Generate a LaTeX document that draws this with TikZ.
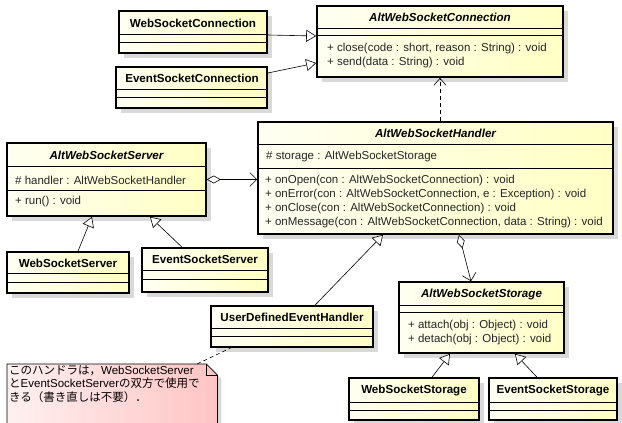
\documentclass[tikz,border=0pt]{standalone}
\usepackage{fontspec}
\setmainfont{Liberation Sans}
\newfontfamily\cjk{Noto Sans CJK JP}
\usetikzlibrary{arrows.meta,shadows}
\definecolor{boxL}{RGB}{255,255,242}
\definecolor{boxR}{RGB}{255,255,196}
\definecolor{noteL}{RGB}{255,240,240}
\definecolor{noteR}{RGB}{255,196,196}
\tikzset{
 classbox/.style={draw=black, line width=1.6pt, left color=boxL, right color=boxR, inner sep=0pt,
   drop shadow={shadow xshift=5pt, shadow yshift=-5pt, fill=black!15, opacity=1}},
 sepline/.style={line width=0.6pt},
 cname/.style={font=\fontsize{11.6}{13}\selectfont\bfseries, inner sep=0pt},
 aname/.style={font=\fontsize{11.6}{13}\selectfont\bfseries\itshape, inner sep=0pt},
 member/.style={font=\fontsize{11.5}{14}\selectfont, anchor=west, align=left, inner sep=0pt, text=black!85},
 gen/.style={line width=0.6pt, -{Triangle[open, length=10pt, width=12pt, fill=white]}},
 agg/.style={line width=0.6pt, {Diamond[open, length=14pt, width=8pt, fill=white]}-{Straight Barb[length=7pt, width=14pt]}},
 dep/.style={line width=0.6pt, dash pattern=on 4pt off 3pt, -{Straight Barb[length=7pt, width=12pt]}},
 notelink/.style={line width=0.6pt, dash pattern=on 4pt off 3pt},
}
\newcommand\umlbox[7]{%
  \node[classbox, minimum width={(#4-#2)*1pt}, minimum height={(#5-#3)*1pt}] (#1) at ({(#2+#4)/2},{(#3+#5)/2}) {};
  \draw[sepline] (#2,#6) -- (#4,#6);
  \draw[sepline] (#2,#7) -- (#4,#7);
}
\begin{document}
\begin{tikzpicture}[x=1pt,y=-1pt]
\useasboundingbox (0,0) rectangle (622,423);
\fill[white] (0,0) rectangle (622,423);

% class boxes
\umlbox{wsc}{119}{11}{267}{53}{34}{42}
\umlbox{esc}{116}{67}{267}{108}{89}{97}
\umlbox{awsc}{317}{6}{563}{77}{28}{35}
\umlbox{handler}{258}{122}{613}{234}{144}{168}
\umlbox{server}{7}{143}{206}{216}{166}{190}
\umlbox{wss}{7}{252}{129}{293}{273}{282}
\umlbox{ess}{142}{248}{268}{292}{270}{279}
\umlbox{udeh}{211}{306}{373}{347}{328}{336}
\umlbox{storage}{399}{282}{564}{353}{305}{312}
\umlbox{wsst}{349}{378}{479}{420}{402}{410}
\umlbox{esst}{489}{378}{617}{420}{402}{410}

% names
\node[cname] (wsc-n) at (193,23) {WebSocketConnection};
\node[cname] (esc-n) at (192,78) {EventSocketConnection};
\node[aname] (awsc-n) at (440,17.5) {AltWebSocketConnection};
\node[aname] (handler-n) at (435.5,133.5) {AltWebSocketHandler};
\node[aname] (server-n) at (106.5,155) {AltWebSocketServer};
\node[cname] (wss-n) at (68,263) {WebSocketServer};
\node[cname] (ess-n) at (205,259.5) {EventSocketServer};
\node[cname] (udeh-n) at (292,317.5) {UserDefinedEventHandler};
\node[aname] (storage-n) at (481.5,294) {AltWebSocketStorage};
\node[cname] (wsst-n) at (414,390.5) {WebSocketStorage};
\node[cname] (esst-n) at (553,390.5) {EventSocketStorage};

% members
\node[member] (awsc-m) at (327,56) {+ close(code : short, reason : String) : void\\+ send(data : String) : void};
\node[member] (handler-a) at (266,156.5) {\# storage : AltWebSocketStorage};
\node[member] (handler-m) at (265,202) {+ onOpen(con : AltWebSocketConnection) : void\\+ onError(con : AltWebSocketConnection, e : Exception) : void\\+ onClose(con : AltWebSocketConnection) : void\\+ onMessage(con : AltWebSocketConnection, data : String) : void};
\node[member] (server-a) at (15,180) {\# handler : AltWebSocketHandler};
\node[member] (server-m) at (15,202) {+ run() : void};
\node[member] (storage-m) at (408,333) {+ attach(obj : Object) : void\\+ detach(obj : Object) : void};

% connectors
\draw[gen] ([yshift=-3pt]wsc.east) -- ([yshift=5.5pt]awsc.west);
\draw[gen] ([yshift=14.5pt]esc.east) -- ([yshift=-21.5pt]awsc.west);
\draw[dep] (handler.north -| awsc.south) -- (awsc.south);
\draw[agg] (server.east) -- (server.east -| handler.west);
\draw[gen] ([xshift=10pt]wss.north) -- ([xshift=-14.5pt]server.south);
\draw[gen] ([xshift=-23pt]ess.north) -- ([xshift=43.5pt]server.south);
\draw[gen] ([xshift=23pt]udeh.north) -- ([xshift=-52.5pt]handler.south);
\draw[agg] ([xshift=23.5pt]handler.south) -- ([xshift=-10.5pt]storage.north);
\draw[gen] ([xshift=18pt]wsst.north) -- ([xshift=-31.5pt]storage.south);
\draw[gen] ([xshift=-16pt]esst.north) -- ([xshift=33.5pt]storage.south);

% note
\node[minimum width=210pt, minimum height=64pt, anchor=north west, inner sep=0pt] (note) at (7,364) {};
\fill[black!15] ([shift={(4pt,-4pt)}]note.north west) -- ([shift={(-7pt,-4pt)}]note.north east) -- ([shift={(4pt,-15pt)}]note.north east) -- ([xshift=4pt]note.south east) -- ([xshift=4pt]note.south west) -- cycle;
\draw[line width=0.8pt, left color=noteL, right color=noteR] (note.north west) -- ([xshift=-11pt]note.north east) -- ([yshift=-11pt]note.north east) -- (note.south east) -- (note.south west) -- cycle;
\draw[line width=0.6pt] ([xshift=-11pt]note.north east) -- ([xshift=-11pt,yshift=-11pt]note.north east) -- ([yshift=-11pt]note.north east);
\node[anchor=north west, inner sep=0pt, align=left, font=\fontsize{11.5}{13.5}\selectfont] (note-t) at (9,365)
 {{\cjk このハンドラは，}WebSocketServer\\{\cjk と}EventSocketServer{\cjk の双方で使用で}\\{\cjk きる（書き直しは不要）．}};
\coordinate (notec) at (197,364);
\draw[notelink] (notec) -- ([xshift=-61pt]udeh.south);
\end{tikzpicture}
\end{document}
